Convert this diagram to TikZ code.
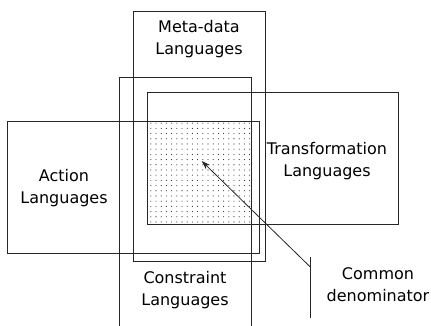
\documentclass[tikz,border=0pt]{standalone}
\usepackage{fontspec}
\setmainfont{DejaVu Sans}
\usetikzlibrary{patterns.meta,arrows.meta}
\begin{document}
\begin{tikzpicture}[x=1pt,y=-1pt,
  box/.style={draw=black!85,line width=0.8pt},
  lbl/.style={align=center,font=\fontsize{16}{22}\selectfont,inner sep=0pt},
  conn/.style={draw=black!85,line width=0.8pt}]
\useasboundingbox (0,0) rectangle (431,326);
% common denominator region
\path[pattern={Dots[distance=5.2pt,radius=0.55pt]},pattern color=black!85]
  (147.7,121.7) rectangle (251.3,224.3);
% boxes
\node[box,minimum width=132.4pt,minimum height=250pt,inner sep=0pt] (meta) at (199.5,136) {};
\draw[box] (119.3,327) |- (251.3,77.3) -- (251.3,327);
\node[box,minimum width=251pt,minimum height=132.3pt,inner sep=0pt] (trans) at (273.2,158.2) {};
\node[box,minimum width=251.6pt,minimum height=131.6pt,inner sep=0pt] (act) at (133.5,187.5) {};
% labels
\node[lbl] (metal) at (199,39) {Meta-data\\Languages};
\node[lbl] (actl) at (64,188.5) {Action\\Languages};
\node[lbl] (transl) at (327,161) {Transformation\\Languages};
\node[lbl] (consl) at (185,290.5) {Constraint\\Languages};
\node[lbl] (cdl) at (378,285) {Common\\denominator};
% leader
\coordinate (ldtop) at (310,256.7);
\coordinate (ldbot) at (310,318.3);
\coordinate (ldarr) at (310,266.7);
\coordinate (cdpt) at (201.7,161);
\draw[conn] (ldtop) -- (ldbot);
\draw[conn,-{Stealth[length=9pt,width=6pt]}] (ldarr) -- (cdpt);
\end{tikzpicture}
\end{document}
